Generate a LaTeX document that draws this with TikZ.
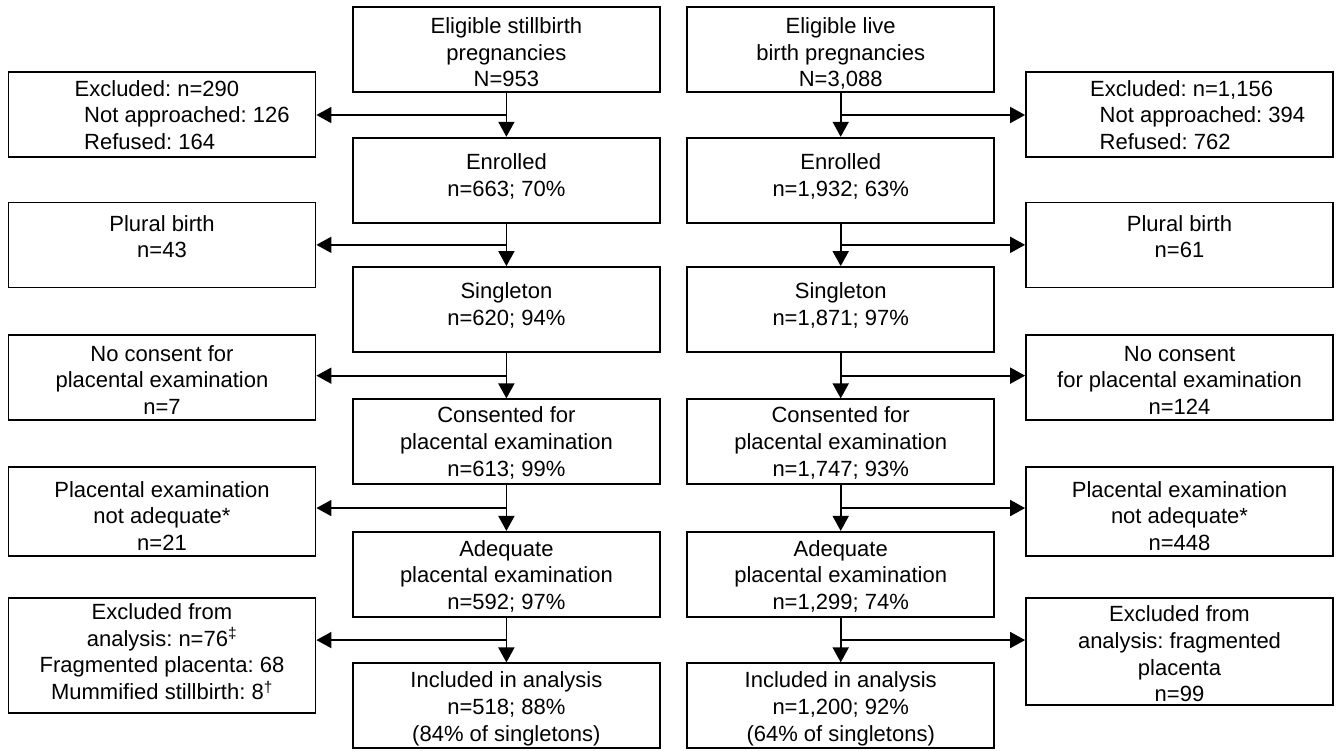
\documentclass[tikz,border=0pt]{standalone}
\usepackage{fontspec}
\setmainfont{Liberation Sans}
\usetikzlibrary{arrows.meta,calc}
\frenchspacing
\begin{document}
\begin{tikzpicture}[x=1pt,y=-1pt,
  box/.style={draw, line width=1.8pt, minimum width=307pt, minimum height=85pt, inner sep=0pt},
  ctext/.style={inner sep=0pt, align=center, font=\fontsize{22}{26.7}\selectfont},
  txt/.style={inner sep=0pt, align=left, anchor=west, font=\fontsize{22}{26.7}\selectfont},
  arr/.style={line width=1.8pt, -{Triangle[length=15pt,width=16pt]}}]
\useasboundingbox (0,0) rectangle (1340,750);
% left central column
\node[box] (L1) at (506.4,49.8) {};
\node[box] (L2) at (506.4,180.2) {};
\node[box] (L3) at (506.4,309.5) {};
\node[box] (L4) at (506.4,441.8) {};
\node[box] (L5) at (506.4,574.3) {};
\node[box] (L6) at (506.4,705.8) {};
\node[ctext] (L1t) at (506.4,54.7) {Eligible stillbirth\strut\\pregnancies\strut\\N=953\strut};
\node[ctext] (L2t) at (506.4,177.4) {Enrolled\strut\\n=663; 70\%\strut};
\node[ctext] (L3t) at (506.4,306.7) {Singleton\strut\\n=620; 94\%\strut};
\node[ctext] (L4t) at (506.4,444.3) {Consented for\strut\\placental examination\strut\\n=613; 99\%\strut};
\node[ctext] (L5t) at (506.4,577.5) {Adequate\strut\\placental examination\strut\\n=592; 97\%\strut};
\node[ctext] (L6t) at (506.4,709.1) {Included in analysis\strut\\n=518; 88\%\strut\\(84\% of singletons)\strut};
% right central column
\node[box] (R1) at (840.7,49.8) {};
\node[box] (R2) at (840.7,180.2) {};
\node[box] (R3) at (840.7,309.5) {};
\node[box] (R4) at (840.7,441.8) {};
\node[box] (R5) at (840.7,574.3) {};
\node[box] (R6) at (840.7,705.8) {};
\node[ctext] (R1t) at (840.7,54.7) {Eligible live\strut\\birth pregnancies\strut\\N=3,088\strut};
\node[ctext] (R2t) at (840.7,177.4) {Enrolled\strut\\n=1,932; 63\%\strut};
\node[ctext] (R3t) at (840.7,306.7) {Singleton\strut\\n=1,871; 97\%\strut};
\node[ctext] (R4t) at (840.7,444.3) {Consented for\strut\\placental examination\strut\\n=1,747; 93\%\strut};
\node[ctext] (R5t) at (840.7,577.5) {Adequate\strut\\placental examination\strut\\n=1,299; 74\%\strut};
\node[ctext] (R6t) at (840.7,709.1) {Included in analysis\strut\\n=1,200; 92\%\strut\\(64\% of singletons)\strut};
% left side boxes
\node[box] (SL1) at (162,114.5) {};
\node[box] (SL2) at (162,245) {};
\node[box] (SL3) at (162,377.5) {};
\node[box, minimum height=89pt] (SL4) at (162,511.5) {};
\node[box, minimum height=115pt] (SL5) at (162,655.2) {};
\node[txt] (SL1t) at (74.5,115) {Excluded: n=290\\\hspace*{9.5pt}Not approached: 126\\\hspace*{9.5pt}Refused: 164};
\node[ctext] (SL2t) at (162,239.1) {Plural birth\strut\\n=43\strut};
\node[ctext] (SL3t) at (162,382.4) {No consent for\strut\\placental examination\strut\\n=7\strut};
\node[ctext] (SL4t) at (162,518.5) {Placental examination\strut\\not adequate*\strut\\n=21\strut};
\node[ctext] (SL5t) at (162,654.2) {Excluded from\strut\\analysis: n=76\textsuperscript{‡}\strut\\Fragmented placenta: 68\strut\\Mummified stillbirth: 8\textsuperscript{†}\strut};
% right side boxes
\node[box] (SR1) at (1179.5,114.5) {};
\node[box] (SR2) at (1179.5,245) {};
\node[box] (SR3) at (1179.5,377.5) {};
\node[box, minimum height=89pt] (SR4) at (1179.5,511.5) {};
\node[box, minimum height=106.7pt] (SR5) at (1179.5,651.7) {};
\node[txt] (SR1t) at (1090,115) {Excluded: n=1,156\\\hspace*{9.5pt}Not approached: 394\\\hspace*{9.5pt}Refused: 762};
\node[ctext] (SR2t) at (1179.5,239.1) {Plural birth\strut\\n=61\strut};
\node[ctext] (SR3t) at (1179.5,382.4) {No consent\strut\\for placental examination\strut\\n=124\strut};
\node[ctext] (SR4t) at (1179.5,518.5) {Placental examination\strut\\not adequate*\strut\\n=448\strut};
\node[ctext] (SR5t) at (1179.5,656.4) {Excluded from\strut\\analysis: fragmented\strut\\placenta\strut\\n=99\strut};
% connectors
\foreach \a/\b in {1/2,2/3,3/4,4/5,5/6}{
  \path (L\a.south) -- (L\b.north) coordinate[midway] (lm\a);
  \draw[arr] (L\a.south) -- (L\b.north);
  \draw[arr] (lm\a) -- (SL\a.east |- lm\a);
  \path (R\a.south) -- (R\b.north) coordinate[midway] (rm\a);
  \draw[arr] (R\a.south) -- (R\b.north);
  \draw[arr] (rm\a) -- (SR\a.west |- rm\a);
}
\end{tikzpicture}
\end{document}
